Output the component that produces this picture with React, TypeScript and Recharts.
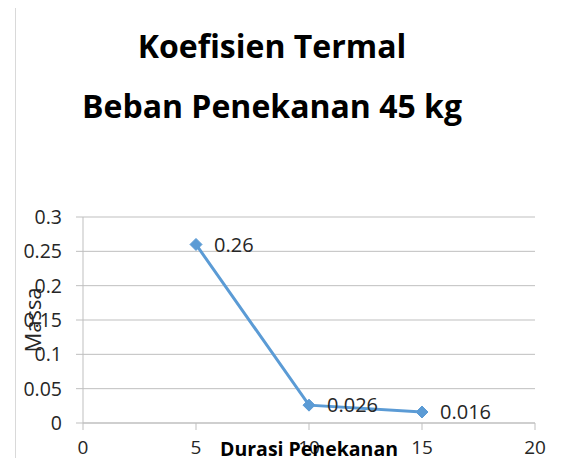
import React from 'react';
import { LineChart, Line, XAxis, YAxis, CartesianGrid, LabelList } from 'recharts';

const durasi = [5, 10, 15];
const massa = [0.26, 0.026, 0.016];
const xTicks = [0, 5, 10, 15, 20];
const yTicks = [0, 0.05, 0.1, 0.15, 0.2, 0.25, 0.3];
const titleLines = ['Koefisien Termal', 'Beban Penekanan 45 kg'];

const data = durasi.map((d, i) => ({ durasi: d, massa: massa[i] }));

const FONT = '"Open Sans", "Liberation Sans", sans-serif';
const GRID = '#bfbfbf';
const LINE = '#5b9bd5';

// diamond marker like the spreadsheet chart
const Diamond = (props: any) => {
  const { cx, cy } = props;
  if (cx == null || cy == null) return null;
  const r = 6;
  return (
    <polygon
      points={`${cx},${cy - r} ${cx + r},${cy} ${cx},${cy + r} ${cx - r},${cy}`}
      fill={LINE}
      stroke={LINE}
    />
  );
};

export default function App() {
  return (
    <div style={{ position: 'relative', width: 579, height: 466, margin: -8, fontFamily: FONT, background: '#fff' }}>
      <div
        style={{
          position: 'absolute',
          left: 15,
          top: 7,
          right: 0,
          bottom: 0,
          borderTop: '1px solid #d9d9d9',
          borderLeft: '1px solid #d9d9d9',
        }}
      />
      <LineChart
        width={579}
        height={466}
        data={data}
        margin={{ top: 217, right: 44, left: 23, bottom: 13 }}
        style={{ position: 'absolute', left: 0, top: 0 }}
      >
        <CartesianGrid vertical={false} stroke={GRID} />
        <XAxis
          type="number"
          dataKey="durasi"
          domain={[0, 20]}
          ticks={xTicks}
          height={30}
          tickSize={7}
          tickMargin={11}
          stroke={GRID}
          tick={{ fill: '#262626', fontSize: 19 }}
          label={{
            value: 'Durasi Penekanan',
            position: 'insideBottom',
            offset: -3,
            style: { fill: '#000', fontSize: 19.5, fontWeight: 700 },
          }}
        />
        <YAxis
          type="number"
          domain={[0, 0.3]}
          ticks={yTicks}
          width={60}
          tickSize={7}
          tickMargin={14}
          stroke={GRID}
          tick={{ fill: '#262626', fontSize: 19.5 }}
          label={{
            value: 'Massa',
            angle: -90,
            position: 'insideLeft',
            offset: 10,
            style: { textAnchor: 'middle', fill: '#262626', fontSize: 22 },
          }}
        />
        <Line
          dataKey="massa"
          stroke={LINE}
          strokeWidth={3}
          dot={<Diamond />}
          isAnimationActive={false}
        >
          <LabelList dataKey="massa" position="right" offset={18} fill="#262626" fontSize={20} />
        </Line>
      </LineChart>
      <svg
        width={579}
        height={466}
        style={{ position: 'absolute', left: 0, top: 0, pointerEvents: 'none' }}
      >
        {titleLines.map((t, i) => (
          <text
            key={t}
            x={272}
            y={58 + i * 60}
            textAnchor="middle"
            fontFamily={FONT}
            fontWeight={700}
            fontSize={32}
            fill="#000"
          >
            {t}
          </text>
        ))}
      </svg>
    </div>
  );
}
